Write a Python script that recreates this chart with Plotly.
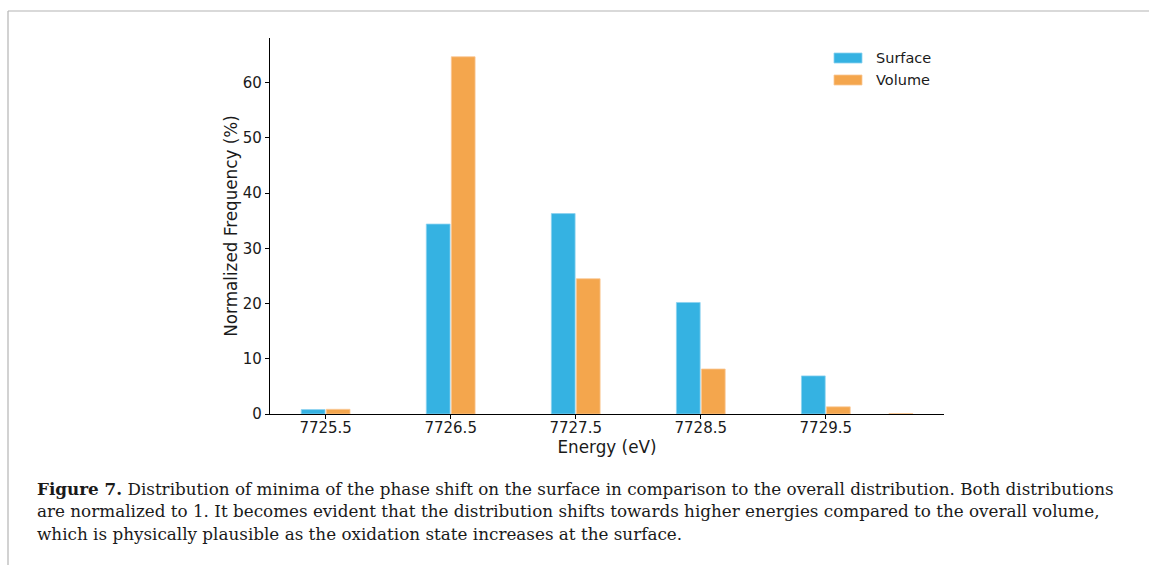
import plotly.graph_objects as go

# Histogram bins (eV) and normalized frequencies (%)
energies = [7725.5, 7726.5, 7727.5, 7728.5, 7729.5]
surface = [0.8, 34.4, 36.3, 20.2, 6.9]
volume_energies = [7725.5, 7726.5, 7727.5, 7728.5, 7729.5, 7730.0]
volume = [0.85, 64.7, 24.5, 8.15, 1.3, 0.08]
tick_labels = ["7725.5", "7726.5", "7727.5", "7728.5", "7729.5"]

caption_lines = [
    "<b>Figure 7.</b> Distribution of minima of the phase shift on the surface in comparison to the overall distribution. Both distributions",
    "are normalized to 1. It becomes evident that the distribution shifts towards higher energies compared to the overall volume,",
    "which is physically plausible as the oxidation state increases at the surface.",
]

W, H = 1149, 565
L, R, T, B = 270, 944, 38, 414  # plot area in pixels

def px(x):
    return (x - L) / (R - L)

def py(y):
    return (B - y) / (B - T)

SURF = "rgb(53,178,226)"
VOL = "rgb(244,166,77)"
BAR_W = 0.19

fig = go.Figure()
fig.add_trace(go.Bar(
    x=energies, y=surface, name="Surface",
    width=BAR_W, offset=-0.195,
    marker=dict(color=SURF, line=dict(color="rgb(140,210,240)", width=0.8)),
    showlegend=False,
))
fig.add_trace(go.Bar(
    x=volume_energies, y=volume, name="Volume",
    width=BAR_W, offset=0.005,
    marker=dict(color=VOL, line=dict(color="rgb(250,200,150)", width=0.8)),
    showlegend=False,
))

tick_font = dict(family="DejaVu Sans", size=15, color="#1a1a1a")
title_font = dict(family="DejaVu Sans", size=16.8, color="#1a1a1a")
fig.update_layout(
    width=W, height=H,
    margin=dict(l=L, r=W - R, t=T, b=H - B, pad=0),
    paper_bgcolor="white", plot_bgcolor="white",
    barmode="overlay",
    font=tick_font,
    xaxis=dict(
        range=[7725.055, 7730.445],
        tickvals=energies, ticktext=tick_labels, tickfont=tick_font,
        ticks="outside", ticklen=4, tickwidth=1.2, tickcolor="black",
        ticklabelstandoff=-4,
        showline=True, linecolor="black", linewidth=1.3,
        showgrid=False, zeroline=False,
        title=dict(text="Energy (eV)", font=title_font, standoff=4),
    ),
    yaxis=dict(
        range=[0, 68.1],
        tickvals=[0, 10, 20, 30, 40, 50, 60], tickfont=tick_font,
        ticks="outside", ticklen=4, tickwidth=1.2, tickcolor="black",
        showline=True, linecolor="black", linewidth=1.3,
        showgrid=False, zeroline=False,
        title=dict(text="Normalized Frequency (%)", font=title_font, standoff=0),
    ),
)

# Legend patches and labels
shapes = []
annotations = []
for i, (label, color, edge) in enumerate([("Surface", SURF, "rgb(140,210,240)"), ("Volume", VOL, "rgb(250,200,150)")]):
    yc = 58 + 22 * i
    shapes.append(dict(type="rect", xref="paper", yref="paper",
                       x0=px(834), x1=px(862), y0=py(yc + 5), y1=py(yc - 5),
                       fillcolor=color, line=dict(color=edge, width=0.8)))
    annotations.append(dict(text=label, xref="paper", yref="paper",
                            x=px(874), y=py(yc), xanchor="left", yanchor="middle",
                            showarrow=False, font=dict(family="DejaVu Sans", size=14.5, color="#1a1a1a")))

# Page frame
shapes.append(dict(type="line", xref="paper", yref="paper", x0=px(8), x1=px(W + 2), y0=py(11), y1=py(11),
                   line=dict(color="#b4b4b4", width=1.2)))
shapes.append(dict(type="line", xref="paper", yref="paper", x0=px(8), x1=px(8), y0=py(11), y1=py(H + 2),
                   line=dict(color="#b4b4b4", width=1.2)))

# Figure caption
for i, line in enumerate(caption_lines):
    annotations.append(dict(text=line, xref="paper", yref="paper",
                            x=px(35), y=py(489 + 22.5 * i), xanchor="left", yanchor="middle",
                            showarrow=False, align="left",
                            font=dict(family="DejaVu Serif", size=16.8, color="#1a1a1a")))

fig.update_layout(shapes=shapes, annotations=annotations)
fig.write_html("out.html")
